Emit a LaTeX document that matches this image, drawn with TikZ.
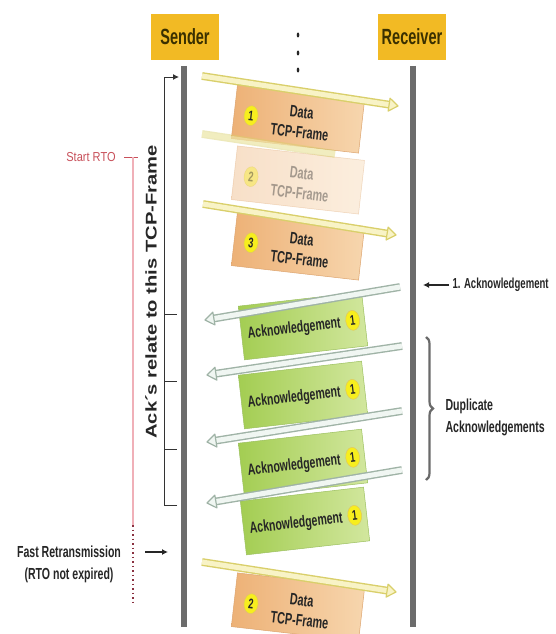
\documentclass[tikz,border=0pt]{standalone}
\usepackage{fontspec}
\setmainfont{Liberation Sans}
\newfontfamily\nar[FakeStretch=0.66]{Liberation Sans}
\newfontfamily\semi[FakeStretch=0.85]{Liberation Sans}
\newfontfamily\wid[FakeStretch=1.3]{Liberation Sans}
\usetikzlibrary{calc,arrows.meta,decorations.pathreplacing,shapes.geometric}
\definecolor{hdrfill}{HTML}{F2BA24}
\definecolor{hdrtext}{HTML}{3A3000}
\definecolor{lifegray}{HTML}{6C6C6C}
\definecolor{dataL}{HTML}{EDB176}
\definecolor{dataR}{HTML}{F7D6AE}
\definecolor{dataE}{HTML}{DDA46E}
\definecolor{ackL}{HTML}{A3CD52}
\definecolor{ackR}{HTML}{D2E79E}
\definecolor{ackE}{HTML}{9CC060}
\definecolor{numfill}{HTML}{F7EE1E}
\definecolor{numedge}{HTML}{E0C860}
\definecolor{dline}{HTML}{D9CF6A}
\definecolor{dfill}{HTML}{F8F3C6}
\definecolor{aline}{HTML}{9FB3A6}
\definecolor{afill}{HTML}{F0F6F2}
\definecolor{rtored}{HTML}{C8505A}
\definecolor{rtopink}{HTML}{F0B0B8}
\definecolor{rtodot}{HTML}{8A3040}
\definecolor{braceg}{HTML}{6A6A6A}
\tikzset{
  hdr/.style={fill=hdrfill, minimum width=68pt, minimum height=46pt, inner sep=0pt,
    font=\nar\bfseries\fontsize{22}{24}\selectfont, text=hdrtext},
  life/.style={draw=lifegray, line width=6pt},
  databox/.style={minimum width=128pt, minimum height=54pt, inner sep=0pt,
    left color=dataL, right color=dataR, draw=dataE, line width=0.5pt},
  ackbox/.style={minimum width=124pt, minimum height=54pt, inner sep=0pt,
    left color=ackL, right color=ackR, draw=ackE, line width=0.5pt},
  num/.style={ellipse, fill=numfill, draw=numedge, line width=0.5pt,
    minimum width=14pt, minimum height=20pt, inner sep=0pt,
    font=\nar\bfseries\fontsize{14}{14}\selectfont, text=black!85},
  dtext/.style={align=center, font=\nar\bfseries\fontsize{16.5}{20}\selectfont, text=black!85},
  atext/.style={font=\nar\bfseries\fontsize{16}{17}\selectfont, text=black!85},
  dshaft/.style={draw=dline, double=dfill, line width=1.4pt, double distance=5pt},
  ashaft/.style={draw=aline, double=afill, line width=1.4pt, double distance=5pt},
  lbl/.style={font=\nar\bfseries\fontsize{16}{22}\selectfont, text=black!85},
  bracket/.style={draw=black!80, line width=1pt},
}
\newcommand\hollow[3]{%
  \draw[#1shaft, shorten >=7pt] (#2) -- (#3);
  \coordinate (tb) at ($(#3)!9pt!(#2)$);
  \draw[draw=#1line, fill=#1fill, line width=1.2pt, line join=round]
    (#3) -- ($(tb)!6.5pt!90:(#3)$) -- ($(tb)!6.5pt!-90:(#3)$) -- cycle;
}
\newcommand\dataframe[4]{%
  \begin{scope}[shift={(#2,#3)}, rotate=-6.5, transform shape]
    \node[databox] (#1) at (0,0) {};
    \node[num] (#1n) at (-47,2) {#4};
    \node[dtext] (#1t) at (3,3) {Data\\TCP-Frame};
  \end{scope}}
\newcommand\ackframe[3]{%
  \begin{scope}[shift={(#2,#3)}, rotate=6.5, transform shape]
    \node[ackbox] (#1) at (0,0) {};
    \node[atext] (#1t) at (-9,2) {Acknowledgement};
    \node[num] (#1n) at (50,0) {1};
  \end{scope}}
\begin{document}
\begin{tikzpicture}[x=1pt, y=-1pt]
\useasboundingbox (0,0) rectangle (555,634);
\fill[white] (0,0) rectangle (555,634);

% headers and lifelines
\node[hdr] (sender) at (185,37) {Sender};
\node[hdr] (receiver) at (412,37) {Receiver};
\coordinate (sTop) at (184,66);
\coordinate (sBot) at (184,627);
\coordinate (rTop) at (413,66);
\coordinate (rBot) at (413,627);
\draw[life] (sTop) -- (sBot);
\draw[life] (rTop) -- (rBot);

% continuation dots
\fill[black!85] (298,35) ellipse (1.3 and 2.5);
\fill[black!85] (298,53) ellipse (1.3 and 2.5);
\fill[black!85] (298,70) ellipse (1.3 and 2.5);

% frames
\dataframe{f1}{298}{119}{1}
\begin{scope}[opacity=0.4]
\dataframe{f2}{298}{180}{2}
\end{scope}
\dataframe{f3}{298}{246}{3}
\ackframe{a1}{303}{326}
\ackframe{a2}{303}{395}
\ackframe{a3}{303}{463}
\ackframe{a4}{305}{521}
\dataframe{f5}{298}{607}{2}

% arrows
\coordinate (d1s) at (202,76);  \coordinate (d1e) at (398,106);
\coordinate (d2s) at (202,134); \coordinate (d2e) at (335,154);
\coordinate (d3s) at (203,204); \coordinate (d3e) at (396,235);
\coordinate (d5s) at (202,562); \coordinate (d5e) at (396,592);
\coordinate (a1s) at (400,287); \coordinate (a1e) at (205,320);
\coordinate (a2s) at (402,346); \coordinate (a2e) at (207,375);
\coordinate (a3s) at (402,411); \coordinate (a3e) at (207,442);
\coordinate (a4s) at (402,470); \coordinate (a4e) at (207,503);
\hollow{d}{d1s}{d1e}
\draw[dshaft, opacity=0.45] (d2s) -- (d2e);
\hollow{d}{d3s}{d3e}
\hollow{a}{a1s}{a1e}
\hollow{a}{a2s}{a2e}
\hollow{a}{a3s}{a3e}
\hollow{a}{a4s}{a4e}
\hollow{d}{d5s}{d5e}

% right side labels
\node[lbl, font=\nar\bfseries\fontsize{14.5}{17}\selectfont, anchor=west] (ack1lbl) at (449,285) {1. Acknowledgement};
\coordinate (ack1tip) at (423,285);
\draw[line width=1.5pt, black!85, -{Latex[length=6pt,width=6pt]}] (ack1lbl.west) -- (ack1tip);
\coordinate (dupT) at (426,337);
\coordinate (dupB) at (426,480);
\draw[decorate, decoration={brace, amplitude=7pt}, draw=braceg, line width=2.2pt] (dupT) -- (dupB);
\node[lbl, anchor=west, align=left] (duplbl) at (442,417) {Duplicate\\Acknowledgements};

% bracket on the left
\coordinate (brBot) at (177,505);
\coordinate (brCor) at (164,505);
\coordinate (brTopC) at (164,77);
\coordinate (brTop) at (179,77);
\draw[bracket, -{Latex[length=6pt,width=6pt]}] (brBot) -- (brCor) -- (brTopC) -- (brTop);
\foreach \ty/\nm in {314/t1,381/t2,449/t3}{
  \coordinate (\nm a) at (164,\ty);
  \coordinate (\nm b) at (177,\ty);
  \draw[bracket] (\nm a) -- (\nm b);
}
\node[rotate=90, font=\wid\bfseries\fontsize{15.5}{16}\selectfont, text=black!85] (acksrel) at (151,292) {Ack´s relate to this TCP-Frame};

% RTO
\node[font=\semi\fontsize{13}{15}\selectfont, text=rtored] (rto) at (91,157) {Start RTO};
\coordinate (rtoA) at (124,157);
\coordinate (rtoB) at (138,157);
\coordinate (rtoV) at (133,157);
\coordinate (rtoM) at (133,525);
\coordinate (rtoE) at (133,605);
\draw[rtored, line width=1pt] (rtoA) -- (rtoB);
\draw[rtopink, line width=1.5pt] (rtoV) -- (rtoM);
\draw[rtodot, line width=1.5pt, dash pattern=on 1.5pt off 3pt] (rtoM) -- (rtoE);

% fast retransmission
\node[lbl, align=center] (fast) at (69,564) {Fast Retransmission\\(RTO not expired)};
\coordinate (fastA) at (145,552);
\coordinate (fastB) at (168,552);
\draw[line width=1.3pt, black!85, -{Latex[length=6pt,width=6pt]}] (fastA) -- (fastB);
\end{tikzpicture}
\end{document}
